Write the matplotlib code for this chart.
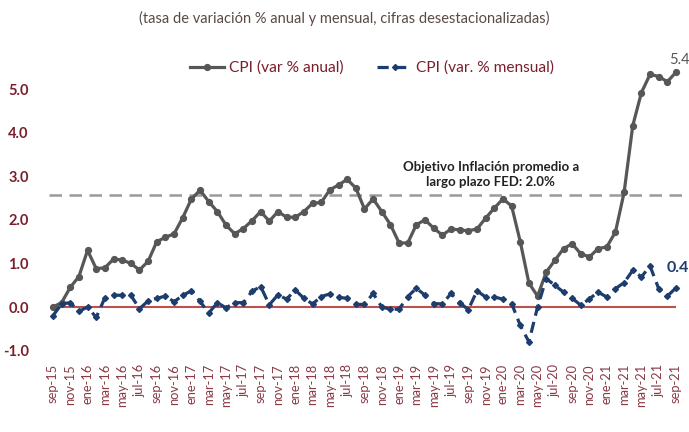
import matplotlib.pyplot as plt
from matplotlib.lines import Line2D

# --- data ---
months = ["ene", "feb", "mar", "abr", "may", "jun", "jul", "ago", "sep", "oct", "nov", "dic"]
labels = []
for k in range(73):
    m = (8 + k) % 12
    yr = 15 + (8 + k) // 12
    labels.append(f"{months[m]}-{yr}")

cpi_anual = [0.0, 0.1, 0.45, 0.7, 1.3, 0.88, 0.9, 1.1, 1.08, 1.0, 0.85, 1.05,
             1.5, 1.6, 1.68, 2.05, 2.48, 2.68, 2.42, 2.19, 1.88, 1.68, 1.8, 1.98,
             2.19, 1.97, 2.19, 2.06, 2.06, 2.19, 2.38, 2.4, 2.69, 2.8, 2.93, 2.73,
             2.25, 2.48, 2.19, 1.89, 1.47, 1.47, 1.89, 2.0, 1.81, 1.65, 1.79, 1.77,
             1.75, 1.79, 2.04, 2.27, 2.48, 2.32, 1.5, 0.55, 0.25, 0.8, 1.07, 1.34,
             1.45, 1.22, 1.15, 1.34, 1.38, 1.72, 2.63, 4.16, 4.92, 5.34, 5.29, 5.17,
             5.39]
cpi_mensual = [-0.2, 0.07, 0.1, -0.1, 0.0, -0.24, 0.21, 0.27, 0.27, 0.27, -0.04, 0.14,
               0.2, 0.25, 0.12, 0.27, 0.37, 0.13, -0.14, 0.1, -0.02, 0.1, 0.1, 0.36,
               0.47, 0.05, 0.28, 0.18, 0.39, 0.2, 0.07, 0.24, 0.3, 0.22, 0.2, 0.06,
               0.06, 0.31, 0.0, -0.05, -0.05, 0.24, 0.43, 0.27, 0.08, 0.07, 0.31, 0.1,
               -0.06, 0.37, 0.23, 0.23, 0.18, 0.08, -0.42, -0.8, 0.0, 0.65, 0.5, 0.34,
               0.2, 0.04, 0.19, 0.34, 0.23, 0.42, 0.56, 0.84, 0.69, 0.94, 0.42, 0.25,
               0.44]
objetivo = 2.58
yticks = [-1.0, 0.0, 1.0, 2.0, 3.0, 4.0, 5.0]

x = list(range(len(labels)))
gray = "#575757"
navy = "#1d3d6e"
maroon = "#7a1f2b"

fig = plt.figure(figsize=(6.89, 4.32), dpi=100)
ax = fig.add_axes([0.058, 0.1667, 0.942, 0.694])

ax.hlines(objetivo, -0.5, 73.5, colors="#9a9a9a", linestyles=(0, (5, 3)), lw=1.8, zorder=1)
ax.hlines(0, 0, len(x) - 1, colors="#c0504d", lw=1.5, zorder=2)

ax.plot(x, cpi_anual, color=gray, lw=2.3, marker="o", ms=4.2, zorder=3)
ax.plot(x, cpi_mensual, color=navy, lw=2.3, ls=(0, (3.5, 2)), marker="D", ms=3.0, zorder=4)

ax.set_xlim(-1.5, 73.5)
ax.set_ylim(-1.216, 5.665)
ax.set_yticks(yticks)
ax.set_yticklabels([f"{v:.1f}" for v in yticks], fontsize=10.5, fontweight="bold",
                   color=maroon, family="Lato")
ax.set_xticks(x[::2])
ax.set_xticklabels(labels[::2], rotation=90, fontsize=9.3, color="#8a3a45", family="Lato")
ax.tick_params(length=0, pad=3)
ax.tick_params(axis="y", pad=8)
for s in ax.spines.values():
    s.set_visible(False)

ax.text(72.45, 5.66, "5.4", fontsize=10.5, color=gray, ha="center", va="center",
        family="Lato", clip_on=False)
ax.text(70.9, 0.9, "0.4", fontsize=11.5, fontweight="bold", color=navy,
        ha="left", va="center", family="Lato", clip_on=False)
ax.text(50.6, 2.72, "Objetivo Inflación promedio a\nlargo plazo FED: 2.0%", fontsize=9.5,
        fontweight="bold", color="#222222", ha="center", va="bottom", family="Lato",
        linespacing=1.3)

fig.text(0.5, 0.958, "(tasa de variación % anual y mensual, cifras desestacionalizadas)",
         ha="center", va="center", fontsize=10.5, color="#5a4a45", family="Lato")

handles = [Line2D([], [], color=gray, lw=2.3, marker="o", ms=4.2),
           Line2D([], [], color=navy, lw=2.3, ls=(0, (3.5, 2)), marker="D", ms=3.0)]
leg = fig.legend(handles, ["CPI (var % anual)", "CPI (var. % mensual)"], loc="center",
                 bbox_to_anchor=(0.54, 0.843), ncol=2, frameon=False,
                 handlelength=2.2, handletextpad=0.3, columnspacing=2.2,
                 prop={"family": "Lato", "size": 11.2})
for t in leg.get_texts():
    t.set_color(maroon)

fig.savefig("out.png", dpi=100)
